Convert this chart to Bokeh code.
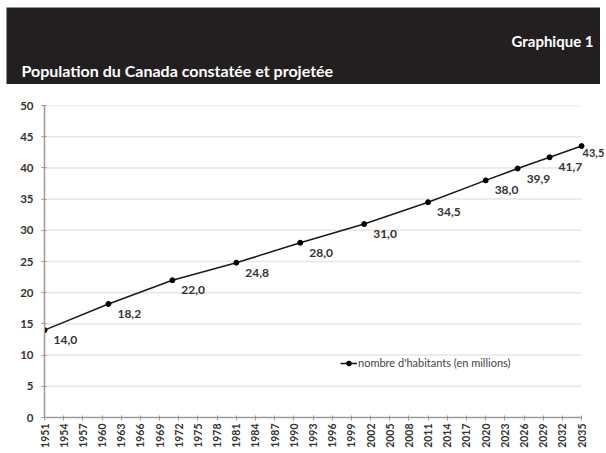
import math
from bokeh.plotting import figure
from bokeh.models import Range1d, FixedTicker, ColumnDataSource, LabelSet, Label
from bokeh.layouts import column
from bokeh.embed import file_html
from bokeh.resources import INLINE
from bokeh.core.properties import value

# ---------------- data ----------------
years = [1951, 1961, 1971, 1981, 1991, 2001, 2011, 2020, 2025, 2030, 2035]
population = [14.0, 18.2, 22.0, 24.8, 28.0, 31.0, 34.5, 38.0, 39.9, 41.7, 43.5]
x_tick_years = [1951, 1954, 1957, 1960, 1963, 1966, 1969, 1972, 1975, 1978,
                1981, 1984, 1987, 1990, 1993, 1996, 1999, 2002, 2005, 2008,
                2011, 2014, 2017, 2020, 2023, 2026, 2029, 2032, 2035]
y_ticks = [0, 5, 10, 15, 20, 25, 30, 35, 40, 45, 50]
title_num = "Graphique 1"
title_main = "Population du Canada constatée et projetée"
legend_text = "nombre d'habitants (en millions)"

value_labels = [f"{v:.1f}".replace(".", ",") for v in population]

FONT = "Lato"
TXT = "#333333"

# ---------------- banner ----------------
banner = figure(width=594, height=77, x_range=Range1d(0, 594), y_range=Range1d(0, 77),
                output_backend="svg", toolbar_location=None, min_border=0,
                x_axis_location=None, y_axis_location=None)
banner.frame_align = False
banner.grid.visible = False
banner.background_fill_color = "#231f20"
banner.border_fill_color = "#231f20"
banner.outline_line_color = None
banner.margin = (7, 6, 0, 6)
banner.add_layout(Label(x=587, y=77 - 33, text=title_num, text_align="right",
                        text_baseline="middle", text_color="white",
                        text_font=FONT, text_font_style="bold", text_font_size="15px"))
banner.add_layout(Label(x=15, y=77 - 63, text=title_main, text_align="left",
                        text_baseline="middle", text_color="white",
                        text_font=FONT, text_font_style="bold", text_font_size="16px"))

# ---------------- main chart ----------------
X0, X1, XEND = 1951, 2035, 2038.9
p = figure(width=606, height=369, x_range=Range1d(X0, XEND), y_range=Range1d(0, 50),
           output_backend="svg", toolbar_location=None,
           min_border_left=44, min_border_right=0, min_border_top=21, min_border_bottom=36)
p.frame_align = False
p.outline_line_color = None
p.background_fill_color = "white"
p.border_fill_color = "white"

p.xaxis.ticker = FixedTicker(ticks=x_tick_years)
p.yaxis.ticker = FixedTicker(ticks=y_ticks)
p.xaxis.bounds = (X0, X1)
p.xaxis.major_label_orientation = math.pi / 2
for ax in (p.xaxis, p.yaxis):
    ax.axis_line_color = "#9a9a9a"
    ax.axis_line_width = 1.5
    ax.major_tick_line_color = "#9a9a9a"
    ax.major_tick_line_width = 1
    ax.major_tick_in = 2
    ax.major_tick_out = 3
    ax.minor_tick_line_color = None
    ax.major_label_text_font = FONT
    ax.major_label_text_font_style = "bold"
    ax.major_label_text_color = TXT
p.yaxis.major_label_text_font_size = "11.5px"
p.yaxis.major_label_standoff = 8
p.xaxis.major_label_text_font_size = "10.5px"
p.xaxis.major_label_standoff = 3

p.grid.visible = False
grid_y = y_ticks[1:]
p.segment(x0=[X0] * len(grid_y), x1=[X1] * len(grid_y), y0=grid_y, y1=grid_y,
          line_color="#e6e6e6", line_width=1.5, level="underlay")

p.line(years, population, line_color="#1a1a1a", line_width=1.5, legend_label=legend_text)
p.scatter(years, population, size=5, fill_color="#000000", line_color="#000000",
          legend_label=legend_text)

src_main = ColumnDataSource(dict(x=years[:-1], y=population[:-1], t=value_labels[:-1]))
src_last = ColumnDataSource(dict(x=years[-1:], y=population[-1:], t=value_labels[-1:]))
for src, xo, yo, fs in ((src_main, 9, -10, "12px"), (src_last, 1, -7, "11px")):
    p.add_layout(LabelSet(x="x", y="y", text="t", source=src, x_offset=xo, y_offset=yo,
                          text_baseline="middle", text_align="left", text_font=value(FONT),
                          text_font_style="bold", text_font_size=fs, text_color=TXT))

lg = p.legend[0]
lg.location = (296, 48)
lg.border_line_color = None
lg.background_fill_alpha = 0
lg.padding = 0
lg.spacing = 0
lg.margin = 0
lg.glyph_width = 17
lg.glyph_height = 12
lg.label_height = 12
lg.label_standoff = 1
lg.label_text_font = FONT
lg.label_text_font_size = "11px"
lg.label_text_color = "#444444"

layout = column(banner, p, spacing=0)
open("out.html", "w").write(file_html(layout, INLINE))
